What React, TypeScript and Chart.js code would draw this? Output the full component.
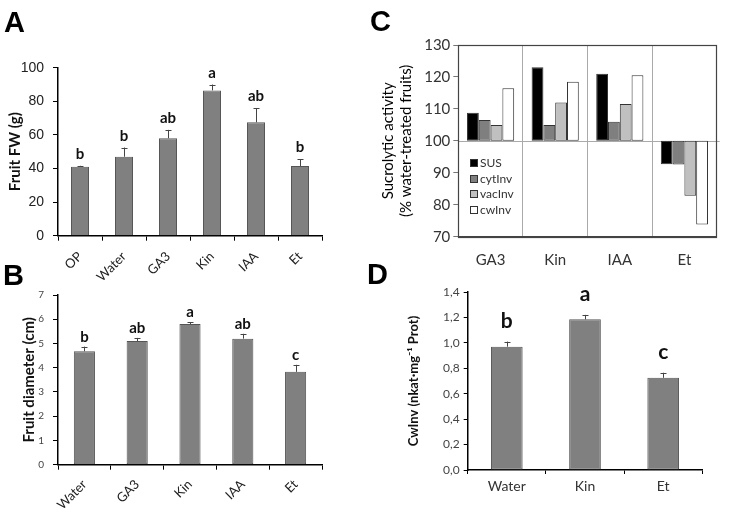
import React, { useEffect, useRef } from 'react';
import { Chart, registerables } from 'chart.js';
Chart.register(...registerables);

const W = 737;
const H = 512;

// Panel A: fruit fresh weight
const catsA = ['OP', 'Water', 'GA3', 'Kin', 'IAA', 'Et'];
const fwA = [41, 47, 58, 86.5, 67.5, 41.5];
const fwErrA = [0.6, 5.5, 5, 3.5, 8.5, 4];
const lettersA = ['b', 'b', 'ab', 'a', 'ab', 'b'];

// Panel B: fruit diameter
const catsB = ['Water', 'GA3', 'Kin', 'IAA', 'Et'];
const diamB = [4.68, 5.1, 5.8, 5.2, 3.83];
const diamErrB = [0.19, 0.13, 0.08, 0.2, 0.29];
const lettersB = ['b', 'ab', 'a', 'ab', 'c'];

// Panel C: sucrolytic activity (% of water-treated)
const catsC = ['GA3', 'Kin', 'IAA', 'Et'];
const seriesC = ['SUS', 'cytInv', 'vacInv', 'cwInv'];
const susC = [108.8, 123, 121, 92.7];
const cytInvC = [106.5, 105, 106, 92.6];
const vacInvC = [105, 112, 111.5, 82.8];
const cwInvC = [116.5, 118.5, 120.5, 73.8];
const baseC = 100;

// Panel D: cell-wall invertase
const catsD = ['Water', 'Kin', 'Et'];
const cwInvD = [0.97, 1.185, 0.725];
const cwInvErrD = [0.04, 0.035, 0.04];
const lettersD = ['b', 'a', 'c'];

const panelLetters = ['A', 'B', 'C', 'D'];

const BAR_FILL = '#808080';
const BAR_EDGE = '#555555';

function errPlugin(errs: number[], letters: string[], font: string, gap: number, cap: number) {
  return {
    id: 'errLetters',
    afterDatasetsDraw(chart: any) {
      const ctx = chart.ctx;
      const meta = chart.getDatasetMeta(0);
      const ys = chart.scales.y;
      const vals = chart.data.datasets[0].data as number[];
      ctx.save();
      meta.data.forEach((el: any, i: number) => {
        const top = ys.getPixelForValue(vals[i] + errs[i]);
        const x = Math.round(el.x) + 0.5;
        ctx.strokeStyle = '#444';
        ctx.lineWidth = 1;
        ctx.beginPath();
        ctx.moveTo(x, el.y);
        ctx.lineTo(x, top);
        ctx.moveTo(x - cap, Math.round(top) + 0.5);
        ctx.lineTo(x + cap, Math.round(top) + 0.5);
        ctx.stroke();
        ctx.fillStyle = '#111';
        ctx.font = font;
        ctx.textAlign = 'center';
        ctx.textBaseline = 'alphabetic';
        ctx.fillText(letters[i], el.x, top - gap);
      });
      ctx.restore();
    },
  };
}

const lettersPlugin = {
  id: 'panelLetters',
  afterDraw(chart: any) {
    const ctx = chart.ctx;
    ctx.save();
    ctx.fillStyle = '#000';
    ctx.font = 'bold 29px "Liberation Sans"';
    ctx.textAlign = 'left';
    ctx.textBaseline = 'alphabetic';
    const pos = [[4, 32], [3, 285], [370, 31], [367, 284]];
    panelLetters.forEach((t, i) => ctx.fillText(t, pos[i][0], pos[i][1]));
    ctx.restore();
  },
};

const boxPlugin = {
  id: 'boxC',
  beforeDatasetsDraw(chart: any) {
    const { ctx, chartArea } = chart;
    const y = Math.round(chart.scales.y.getPixelForValue(baseC)) + 0.5;
    ctx.save();
    ctx.strokeStyle = '#aaaaaa';
    ctx.lineWidth = 1;
    ctx.beginPath();
    ctx.moveTo(chartArea.left, y);
    ctx.lineTo(chartArea.right + 3, y);
    ctx.stroke();
    ctx.restore();
  },
  afterDraw(chart: any) {
    const { ctx, chartArea } = chart;
    ctx.save();
    ctx.strokeStyle = '#444';
    ctx.lineWidth = 1.2;
    ctx.strokeRect(
      Math.round(chartArea.left) + 0.5,
      Math.round(chartArea.top) + 0.5,
      Math.round(chartArea.right - chartArea.left),
      Math.round(chartArea.bottom - chartArea.top)
    );
    // legend
    const ds = chart.data.datasets;
    ctx.font = '12px Lato';
    ctx.textBaseline = 'middle';
    ctx.textAlign = 'left';
    const lx = 470;
    const ly = [163, 179, 194, 210];
    ds.forEach((d: any, i: number) => {
      ctx.fillStyle = d.backgroundColor;
      ctx.fillRect(lx, ly[i] - 4, 8, 8);
      ctx.strokeStyle = '#333';
      ctx.lineWidth = 1;
      ctx.strokeRect(lx + 0.5, ly[i] - 3.5, 7, 7);
      ctx.fillStyle = '#333';
      ctx.fillText(d.label, lx + 10, ly[i]);
    });
    ctx.restore();
  },
};

function simpleBar(
  labels: string[],
  data: number[],
  barPct: number,
  pad: any,
  yOpts: any,
  xOpts: any,
  plugins: any[]
): any {
  return {
    type: 'bar',
    data: {
      labels,
      datasets: [
        {
          data,
          backgroundColor: BAR_FILL,
          borderColor: BAR_EDGE,
          borderWidth: 1,
          borderSkipped: false,
          barPercentage: barPct,
          categoryPercentage: 1,
        },
      ],
    },
    options: {
      animation: false,
      responsive: false,
      events: [],
      layout: { padding: pad },
      plugins: { legend: { display: false }, tooltip: { enabled: false } },
      scales: { y: yOpts, x: xOpts },
    },
    plugins,
  };
}

function configA(): any {
  return simpleBar(
    catsA,
    fwA,
    0.41,
    { left: 6, top: 67.7, right: W - 322, bottom: H - 235.7 - 52 },
    {
      min: 0,
      max: 100,
      afterFit: (s: any) => { s.width = 52; },
      ticks: { stepSize: 20, font: { family: 'Liberation Sans', size: 14 }, color: '#222', padding: 9 },
      grid: { drawOnChartArea: false, drawTicks: true, tickLength: 5, color: '#000' },
      border: { color: '#000', width: 1.5 },
      title: { display: true, text: 'Fruit FW (g)', font: { family: 'Lato', size: 15, weight: 'bold' }, color: '#111', padding: 0 },
    },
    {
      afterFit: (s: any) => { s.height = 52; },
      grid: { offset: true, drawOnChartArea: false, drawTicks: true, tickLength: 5, color: '#000' },
      border: { color: '#000', width: 1.5 },
      ticks: { font: { family: 'Lato', size: 13 }, color: '#222', minRotation: 45, maxRotation: 45, padding: 8 },
    },
    [errPlugin(fwErrA, lettersA, 'bold 15px Lato', 7, 3), lettersPlugin]
  );
}

function configB(): any {
  return simpleBar(
    catsB,
    diamB,
    0.4,
    { left: 20, top: 295, right: W - 322, bottom: 0 },
    {
      min: 0,
      max: 7,
      afterFit: (s: any) => { s.width = 38; },
      ticks: { stepSize: 1, font: { family: 'Lato', size: 10 }, color: '#444', padding: 9 },
      grid: { drawOnChartArea: false, drawTicks: true, tickLength: 5, color: '#000' },
      border: { color: '#000', width: 1.5 },
      title: { display: true, text: 'Fruit diameter (cm)', font: { family: 'Lato', size: 15, weight: 'bold' }, color: '#111', padding: 0 },
    },
    {
      afterFit: (s: any) => { s.height = H - 464.7; },
      grid: { offset: true, drawOnChartArea: false, drawTicks: true, tickLength: 5, color: '#000' },
      border: { color: '#000', width: 1.5 },
      ticks: { font: { family: 'Lato', size: 13 }, color: '#222', minRotation: 45, maxRotation: 45, padding: 7 },
    },
    [errPlugin(diamErrB, lettersB, 'bold 15px Lato', 5, 3)]
  );
}

function configC(): any {
  const colors = ['#000000', '#7f7f7f', '#c0c0c0', '#ffffff'];
  const series = [susC, cytInvC, vacInvC, cwInvC];
  return {
    type: 'bar',
    data: {
      labels: catsC,
      datasets: series.map((s, i) => ({
        label: seriesC[i],
        data: s.map((v) => [baseC, v]),
        backgroundColor: colors[i],
        borderColor: '#333',
        borderWidth: 1,
        borderSkipped: false,
        barPercentage: 1,
        categoryPercentage: 0.73,
      })),
    },
    options: {
      animation: false,
      responsive: false,
      events: [],
      layout: { padding: { left: 379.6, top: 45, right: W - 716.7, bottom: H - 236.7 - 30 } },
      plugins: { legend: { display: false }, tooltip: { enabled: false } },
      scales: {
        y: {
          min: 70,
          max: 130,
          afterFit: (s: any) => { s.width = 458.3 - 379.6; },
          ticks: { stepSize: 10, font: { family: 'Lato', size: 15 }, color: '#333', padding: 3 },
          grid: { drawOnChartArea: false, drawTicks: true, tickLength: 5, color: '#777' },
          border: { color: '#444', width: 1 },
          title: {
            display: true,
            text: ['Sucrolytic activity', '(% water-treated fruits)'],
            font: { family: 'Lato', size: 15 },
            color: '#000',
            padding: 0,
          },
        },
        x: {
          afterFit: (s: any) => { s.height = 30; },
          grid: { offset: true, drawOnChartArea: true, drawTicks: false, color: '#aaaaaa' },
          border: { color: '#444', width: 1 },
          ticks: { font: { family: 'Lato', size: 15 }, color: '#333', padding: 14 },
        },
      },
    },
    plugins: [boxPlugin],
  };
}

function configD(): any {
  return simpleBar(
    catsD,
    cwInvD,
    0.405,
    { left: 406.2, top: 292, right: W - 702.3, bottom: H - 470 - 30 },
    {
      min: 0,
      max: 1.4,
      afterFit: (s: any) => { s.width = 467.7 - 406.2; },
      ticks: {
        stepSize: 0.2,
        font: { family: 'Lato', size: 12 },
        color: '#444',
        padding: 4,
        callback: (v: any) => Number(v).toFixed(1).replace('.', ','),
      },
      grid: { drawOnChartArea: false, drawTicks: true, tickLength: 4, color: '#000' },
      border: { color: '#000', width: 1.5 },
      title: {
        display: true,
        text: 'CwInv (nkat\u00B7mg\u207B\u00B9 Prot)',
        font: { family: 'Lato', size: 13, weight: 'bold' },
        color: '#111',
        padding: 0,
      },
    },
    {
      afterFit: (s: any) => { s.height = 30; },
      grid: { offset: true, drawOnChartArea: false, drawTicks: true, tickLength: 4, color: '#000' },
      border: { color: '#000', width: 1.5 },
      ticks: { font: { family: 'Lato', size: 14 }, color: '#333', padding: 4, maxRotation: 0 },
    },
    [errPlugin(cwInvErrD, lettersD, 'bold 21px Lato', 14, 3)]
  );
}

function Panel({ make }: { make: () => any }) {
  const ref = useRef<HTMLCanvasElement | null>(null);
  useEffect(() => {
    if (!ref.current) return;
    const c = new Chart(ref.current, make());
    return () => c.destroy();
  }, []);
  return (
    <canvas
      ref={ref}
      width={W}
      height={H}
      style={{ position: 'absolute', left: 0, top: 0, width: W, height: H }}
    />
  );
}

export default function App() {
  return (
    <div style={{ position: 'absolute', left: 0, top: 0, width: W, height: H, background: '#fff', overflow: 'hidden' }}>
      <Panel make={configA} />
      <Panel make={configB} />
      <Panel make={configC} />
      <Panel make={configD} />
    </div>
  );
}
